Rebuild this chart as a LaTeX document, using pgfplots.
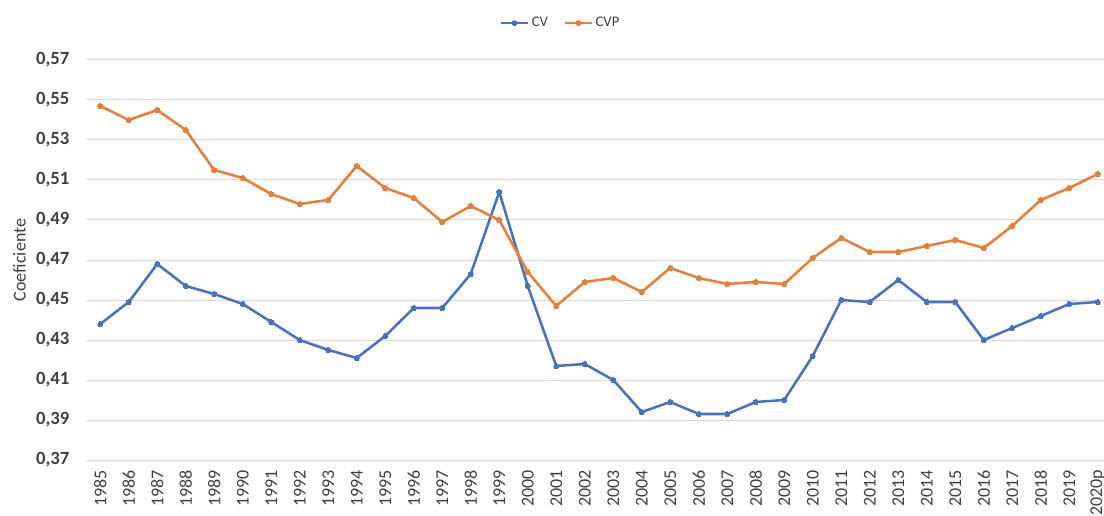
\documentclass[border=0pt]{standalone}
\usepackage{fontspec}
\setmainfont{Carlito}
\usepackage{pgfplots}
\pgfplotsset{compat=1.18}
\definecolor{cvblue}{HTML}{4472C4}
\definecolor{cvporange}{HTML}{ED7D31}
\definecolor{gridgray}{HTML}{D9D9D9}
\definecolor{txtgray}{HTML}{404040}
\begin{document}
\begin{tikzpicture}
\useasboundingbox (0,0) rectangle (828pt,386.25pt);
\begin{axis}[
  at={(64.5pt,41.25pt)}, anchor=south west,
  scale only axis, width=769.5pt, height=300pt,
  xmin=-0.5, xmax=35.5, ymin=0.37, ymax=0.57,
  axis line style={draw=none},
  major tick length=0pt,
  ymajorgrids, major grid style={gridgray, line width=0.75pt},
  ytick={0.37,0.39,0.41,0.43,0.45,0.47,0.49,0.51,0.53,0.55,0.57},
  yticklabels={{0,37},{0,39},{0,41},{0,43},{0,45},{0,47},{0,49},{0,51},{0,53},{0,55},{0,57}},
  yticklabel style={font=\fontsize{14}{16}\selectfont\bfseries, text=txtgray, anchor=east, xshift=-9pt},
  xtick={0,...,35},
  xticklabels={1985,1986,1987,1988,1989,1990,1991,1992,1993,1994,1995,1996,1997,1998,1999,2000,2001,2002,2003,2004,2005,2006,2007,2008,2009,2010,2011,2012,2013,2014,2015,2016,2017,2018,2019,2020p},
  xticklabel style={font=\fontsize{13.5}{15}\selectfont, text=txtgray, rotate=90, anchor=east, xshift=-4pt},
  ylabel={Coeficiente},
  every axis y label/.style={at={(axis description cs:-0.0648,0.5)}, rotate=90, anchor=center, font=\fontsize{13.5}{15}\selectfont, text=txtgray},
  legend style={at={(rel axis cs:0.463,1.0925)}, anchor=center, draw=none, fill=none,
    legend columns=2, font=\fontsize{11}{13}\selectfont, text=txtgray,
    /tikz/every even column/.append style={column sep=10pt}},
  legend image code/.code={\draw[mark repeat=2,mark phase=2] plot coordinates {(0cm,0cm)(0.35cm,0cm)(0.7cm,0cm)};},
  every axis plot/.append style={line width=1.9pt, mark=*, mark size=1.9pt, line join=round},
]
\addplot[cvblue, mark options={fill=cvblue, draw=cvblue, line width=0pt}] coordinates {
(0,0.438)(1,0.449)(2,0.468)(3,0.457)(4,0.453)(5,0.448)(6,0.439)(7,0.430)(8,0.425)(9,0.421)
(10,0.432)(11,0.446)(12,0.446)(13,0.463)(14,0.504)(15,0.457)(16,0.417)(17,0.418)(18,0.410)(19,0.394)
(20,0.399)(21,0.393)(22,0.393)(23,0.399)(24,0.400)(25,0.422)(26,0.450)(27,0.449)(28,0.460)(29,0.449)
(30,0.449)(31,0.430)(32,0.436)(33,0.442)(34,0.448)(35,0.449)};
\addlegendentry{CV}
\addplot[cvporange, mark options={fill=cvporange, draw=cvporange, line width=0pt}] coordinates {
(0,0.547)(1,0.540)(2,0.545)(3,0.535)(4,0.515)(5,0.511)(6,0.503)(7,0.498)(8,0.500)(9,0.517)
(10,0.506)(11,0.501)(12,0.489)(13,0.497)(14,0.490)(15,0.464)(16,0.447)(17,0.459)(18,0.461)(19,0.454)
(20,0.466)(21,0.461)(22,0.458)(23,0.459)(24,0.458)(25,0.471)(26,0.481)(27,0.474)(28,0.474)(29,0.477)
(30,0.480)(31,0.476)(32,0.487)(33,0.500)(34,0.506)(35,0.513)};
\addlegendentry{CVP}
\end{axis}
\end{tikzpicture}
\end{document}
